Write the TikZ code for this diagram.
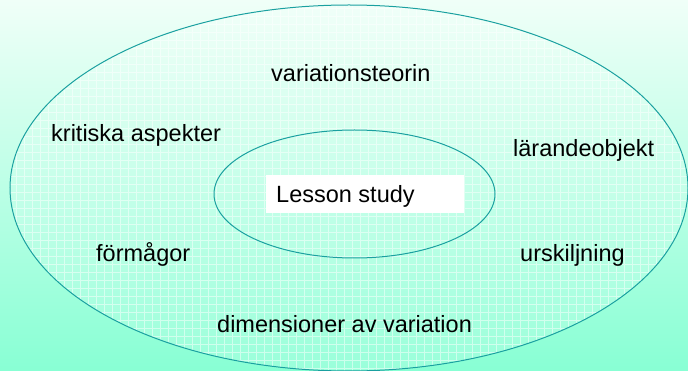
\documentclass[tikz,border=0pt]{standalone}
\usepackage{fontspec}
\setmainfont{Liberation Sans}
\definecolor{bgtop}{HTML}{F0FFF8}
\definecolor{bgbot}{HTML}{88FFD4}
\definecolor{ringcol}{HTML}{1AA0A0}

\begin{document}
\begin{tikzpicture}[x=1pt, y=-1pt]
	\tikzset{
	    ring/.style= {draw=ringcol, line width=1pt},
	    term/.style= {anchor=base west, inner sep=0pt, font=\fontsize{23.5}{28}\selectfont, text=black},
	}
	
	% background
	\shade[top color=bgtop, bottom color=bgbot] (0, 0) rectangle (688, 371);
	\useasboundingbox (0, 0) rectangle (688, 371);
	
	% grid inside the outer ellipse
	\begin{scope}
		\clip (349, 188) ellipse [x radius=339, y radius=183];
		\fill[white, opacity=0.15] (0, 0) rectangle (688, 371);
		\draw[white, opacity=0.5, line width=0.7pt, xstep=8pt, ystep=8pt] (0, 0) grid (688, 371);
	\end{scope}
	
	\draw[ring] (349, 188) ellipse [x radius=339, y radius=183];
	\draw[ring] (354.5, 194) ellipse [x radius=140.5, y radius=64];
	
	\fill[white] (266, 175) rectangle (464, 213);
	
	\node[term] (ls) at (276, 203) {Lesson study};
	\node[term] (vt) at (271, 82) {variationsteorin};
	\node[term] (ka) at (51, 142) {kritiska aspekter};
	\node[term] (lo) at (513, 157) {lärandeobjekt};
	\node[term] (fm) at (96, 262) {förmågor};
	\node[term] (us) at (520, 262) {urskiljning};
	\node[term] (dv) at (217, 332) {dimensioner av variation};
\end{tikzpicture}
\end{document}
